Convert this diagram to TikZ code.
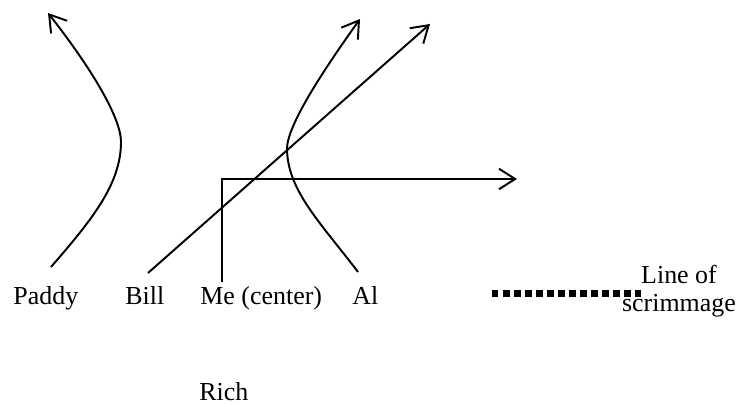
\documentclass[tikz,border=0pt]{standalone}
\usepackage{fontspec}
\setmainfont{Liberation Serif}
\usepackage{tikz}
\usetikzlibrary{arrows.meta}

\begin{document}
\begin{tikzpicture}[x=0.463pt,y=-0.463pt,
  player/.style={font=\fontsize{12}{13}\selectfont,anchor=base west,inner sep=0pt},
  route/.style={line width=0.9pt,-{Straight Barb[length=7.5pt,width=9.5pt]}}]
\useasboundingbox (0,0) rectangle (741,405);
% Players
\node[player] (paddy) at (13,305) {Paddy};
\node[player] (bill) at (125,305) {Bill};
\node[player] (me) at (200,305) {Me (center)};
\node[player] (al) at (352,305) {Al};
\node[player] (rich) at (199,401) {Rich};
% Line of scrimmage
\node[font=\fontsize{12}{13}\selectfont,align=center,anchor=north,inner sep=0pt] (los) at (679,265) {Line of\\scrimmage};
\coordinate (los-a) at (492,293.5);
\coordinate (los-b) at (641,293.5);
\draw[line width=2.8pt,dash pattern=on 3pt off 2.1pt] (los-a) -- (los-b);
% Route ends
\coordinate (paddy-go) at (51,267);
\coordinate (paddy-turn) at (121,142);
\coordinate (paddy-end) at (48,13);
\coordinate (bill-go) at (148,273);
\coordinate (bill-end) at (430,24);
\coordinate (me-go) at (222,282);
\coordinate (me-turn) at (222,179);
\coordinate (me-end) at (517,179);
\coordinate (al-go) at (358,272);
\coordinate (al-turn) at (287,148);
\coordinate (al-end) at (360,19);
% Routes
\draw[route] (paddy-go) .. controls (90,222) and (121,185) .. (paddy-turn)
  .. controls (121,115) and (85,60) .. (paddy-end);
\draw[route] (bill-go) -- (bill-end);
\draw[route] (me-go) -- (me-turn) -- (me-end);
\draw[route] (al-go) .. controls (320,222) and (287,190) .. (al-turn)
  .. controls (288,125) and (320,75) .. (al-end);
\end{tikzpicture}
\end{document}
